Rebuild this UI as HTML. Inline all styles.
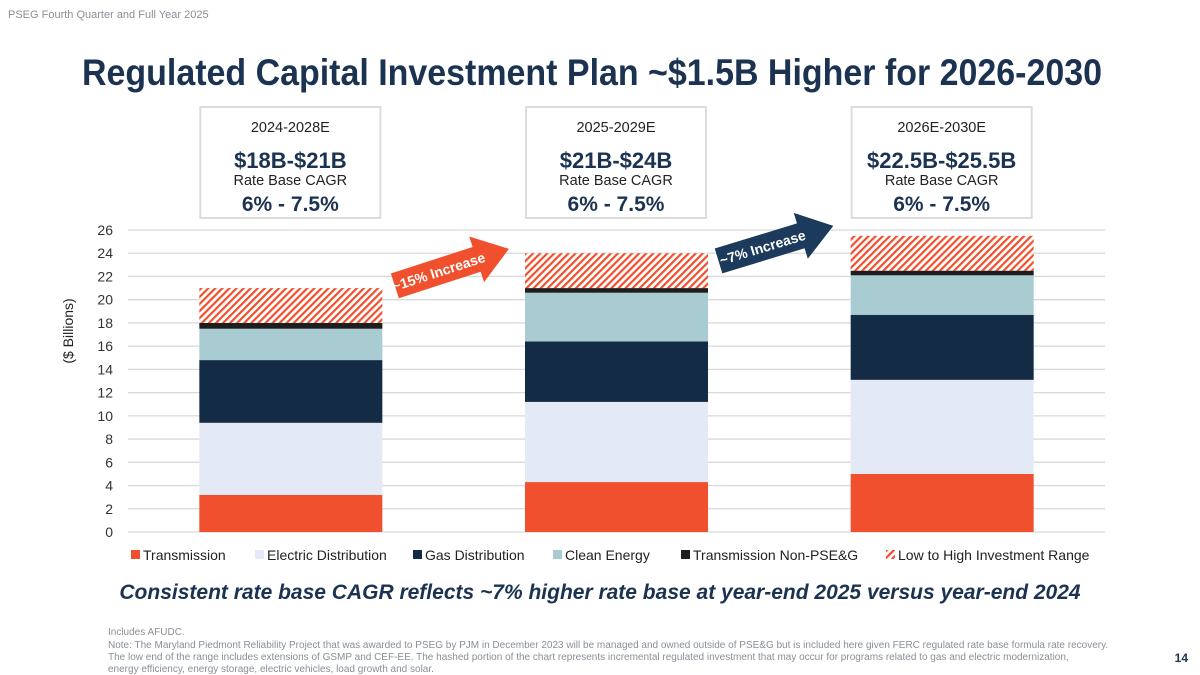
<!DOCTYPE html>
<html><head><meta charset="utf-8"><style>
body{margin:0;background:#fff;}
svg{display:block;font-family:"Liberation Sans",sans-serif;}
</style></head><body>
<svg width="1200" height="675" viewBox="0 0 1200 675">
<defs>
<pattern id="hatch" patternUnits="userSpaceOnUse" width="5" height="5" patternTransform="rotate(45)">
<rect width="5" height="5" fill="#fff"/><rect width="2.2" height="5" fill="#f0502d"/>
</pattern>
</defs>
<text x="8" y="18" font-size="11" fill="#8a8f96">PSEG Fourth Quarter and Full Year 2025</text>
<text x="592" y="85" text-anchor="middle" font-size="37" font-weight="bold" fill="#1b3350" textLength="1020" lengthAdjust="spacingAndGlyphs">Regulated Capital Investment Plan ~$1.5B Higher for 2026-2030</text>
<g id="boxes"></g>
<g id="grid"></g>
<g id="bars"></g>
<g id="arrows">
<g transform="translate(450,268) rotate(-18)">
<polygon points="-58,-13 28,-13 28,-24 62,0 28,24 28,13 -58,13" fill="#f0502d"/>
<text x="-12" y="5" text-anchor="middle" font-size="14" font-weight="bold" fill="#fff">~15% Increase</text>
</g>
<g transform="translate(774,244) rotate(-17)">
<polygon points="-58,-13 28,-13 28,-24 62,0 28,24 28,13 -58,13" fill="#1b3a5c"/>
<text x="-12" y="5" text-anchor="middle" font-size="14" font-weight="bold" fill="#fff">~7% Increase</text>
</g>
</g>
<text transform="translate(73,331) rotate(-90)" text-anchor="middle" font-size="14" fill="#222">($ Billions)</text>
<g id="legend"></g>
<text x="600" y="599" text-anchor="middle" font-size="21" font-weight="bold" font-style="italic" fill="#1b3350">Consistent rate base CAGR reflects ~7% higher rate base at year-end 2025 versus year-end 2024</text>
<g font-size="10" fill="#8a8f96">
<text x="108" y="635">Includes AFUDC.</text>
<text x="108" y="648">Note: The Maryland Piedmont Reliability Project that was awarded to PSEG by PJM in December 2023 will be managed and owned outside of PSE&amp;G but is included here given FERC regulated rate base formula rate recovery.</text>
<text x="108" y="660">The low end of the range includes extensions of GSMP and CEF-EE. The hashed portion of the chart represents incremental regulated investment that may occur for programs related to gas and electric modernization,</text>
<text x="108" y="672">energy efficiency, energy storage, electric vehicles, load growth and solar.</text>
</g>
<text x="1188" y="662" text-anchor="end" font-size="12" font-weight="bold" fill="#1b3350">14</text>
</svg>
<script>
const categories=["2024-2028E","2025-2029E","2026E-2030E"];
const ranges=["$18B-$21B","$21B-$24B","$22.5B-$25.5B"];
const cagr=["6% - 7.5%","6% - 7.5%","6% - 7.5%"];
const seriesNames=["Transmission","Electric Distribution","Gas Distribution","Clean Energy","Transmission Non-PSE&G","Low to High Investment Range"];
const transmission=[3.2,4.3,5.0];
const electricDist=[6.2,6.9,8.1];
const gasDist=[5.4,5.2,5.6];
const cleanEnergy=[2.7,4.2,3.4];
const txNonPseg=[0.5,0.4,0.4];
const rangeHigh=[3.0,3.0,3.0];
const yTicks=[0,2,4,6,8,10,12,14,16,18,20,22,24,26];
const colors=["#f0502d","#e4eaf5","#142b45","#a9cbd2","#1e1e1e","url(#hatch)"];
const NS="http://www.w3.org/2000/svg";
const y0=532,yTop=230,yMax=26,xL=128,xR=1105,barW=183;
const y=v=>y0-(v/yMax)*(y0-yTop);
const xc=i=>xL+(xR-xL)*(i+0.5)/categories.length;
function mk(t,a,p){const e=document.createElementNS(NS,t);for(const k in a)e.setAttribute(k,a[k]);p.appendChild(e);return e;}
const grid=document.getElementById('grid');
yTicks.forEach(t=>{
 const l=mk('line',{x1:xL,x2:xR,y1:y(t),y2:y(t),stroke:'#d9d9d9','stroke-width':1.3},grid);
 
 
 const tx=mk('text',{x:113,y:y(t)+5,'text-anchor':'end','font-size':14,fill:'#333'},grid);
 tx.textContent=t;
 
 
});
const bars=document.getElementById('bars');
const series=[transmission,electricDist,gasDist,cleanEnergy,txNonPseg,rangeHigh];
const boxes=document.getElementById('boxes');
categories.forEach((c,i)=>{
 let base=0;
 series.forEach((s,j)=>{
  const r=mk('rect',{x:xc(i)-barW/2,y:y(base+s[i]),width:barW,height:y(base)-y(base+s[i]),fill:colors[j]},bars);
  
  
  base+=s[i];
 });
 const g=mk('g',{},boxes);
 
 
 const cx=xc(i)-0.5;
 mk('rect',{x:cx-90,y:107,width:180,height:111,fill:'#fff',stroke:'#dcdcdc','stroke-width':2},g);
 const lines=[[c,14.5,'normal',132],[ranges[i],22,'bold',168],['Rate Base CAGR',14.5,'normal',185],[cagr[i],21,'bold',211]];
 lines.forEach(L=>{const t=mk('text',{x:cx,y:L[3],'text-anchor':'middle','font-size':L[1],'font-weight':L[2],fill:L[2]=='bold'?'#1b3350':'#222'},g);t.textContent=L[0];});
});
const leg=document.getElementById('legend');
const legX=[131,255,413,553,681,886];
seriesNames.forEach((n,j)=>{
 const g=mk('g',{},leg);
 
 
 mk('rect',{x:legX[j],y:550,width:9,height:9,fill:colors[j]},g);
 const t=mk('text',{x:legX[j]+12,y:560,'font-size':14,fill:'#222'},g);t.textContent=n;
});
</script>
</body></html>
